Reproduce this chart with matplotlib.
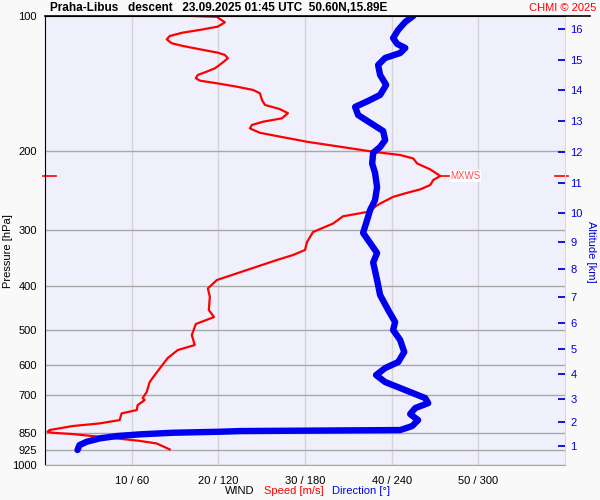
import matplotlib
matplotlib.use("Agg")
import matplotlib.pyplot as plt
import matplotlib.transforms as mtrans
from matplotlib.lines import Line2D
import numpy as np

plt.rcParams['font.family'] = ['Liberation Sans', 'DejaVu Sans']

# ---- data ----
speed_p = [100, 100.4, 103.3, 105.6, 107.4, 108.9, 110.8, 112.7, 115.0, 116.6, 118.6, 120.7, 122.1,
           124.2, 127.4, 130.8, 133.0, 135.3, 137.6, 139.3, 141.2, 143.7, 146.1, 148.6, 153.8, 157.8,
           161.2, 164.6, 169.0, 172.0, 174.9, 178.0, 182.0, 185.1, 188.9, 190.6, 195.5, 200.6, 204.0,
           207.6, 213.1, 219.6, 227.1, 231.9, 237.9, 243.3, 247.6, 252.8, 261.6, 273.2, 279.3, 289.9,
           302.8, 318.8, 332.0, 340.7, 349.5, 367.9, 387.3, 404.4, 421.8, 451.7, 468.3, 485.3, 513.5,
           540.5, 554.6, 577.8, 630.5, 653.5, 688.0, 709.4, 716.7, 735.4, 754.5, 767.5, 794.3, 807.9,
           819.0, 835.9, 843.3, 847.6, 853.3, 865.2, 872.5, 883.6, 895.5, 923.2]
speed_ms = [17.05, 19.83, 20.75, 19.94, 17.86, 15.9, 14.39, 14.05, 14.62, 15.9, 17.86, 19.94, 20.75,
            21.1, 20.4, 19.6, 18.67, 17.63, 17.4, 17.86, 19.83, 22.14, 24.0, 24.8, 25.03, 25.38,
            27.1, 28.03, 27.34, 25.14, 23.87, 23.64, 24.8, 26.76, 29.19, 30.23, 34.05, 37.86, 40.98,
            42.49, 42.95, 44.45, 45.61, 44.8, 44.45, 43.29, 41.79, 40.17, 38.67, 37.17, 34.39, 33.24,
            30.92, 30.23, 30.0, 28.61, 26.76, 23.3, 19.83, 18.79, 19.02, 18.9, 19.5, 17.4, 16.94,
            17.28, 15.32, 14.16, 12.66, 12.08, 11.73, 11.27, 11.5, 10.69, 10.58, 8.84, 8.61, 6.3,
            3.18, 0.52, 0.29, 0.87, 3.18, 6.3, 8.27, 10.92, 12.89, 14.39]

dir_p = [100, 103.1, 107.4, 112.0, 115.4, 117.8, 120.9, 124.0, 128.6, 135.3, 142.4, 149.9, 154.6,
         159.4, 166.2, 174.0, 180.4, 188.9, 195.8, 201.6, 213.1, 223.7, 240.4, 257.0, 270.5, 284.7,
         304.1, 320.3, 337.2, 354.0, 387.3, 418.2, 451.7, 480.4, 500.5, 526.8, 560.3, 589.9, 608.2,
         630.5, 653.5, 680.9, 709.4, 728.0, 746.8, 770.2, 794.3, 819.0, 835.9, 840.3, 843.2, 847.6,
         854.6, 862.1, 872.5, 887.8, 902.9, 926.0]
dir_deg = [254.9, 249.4, 244.5, 241.0, 243.8, 249.4, 245.9, 235.5, 230.6, 232.0, 236.2, 232.0, 223.7,
           214.7, 216.8, 226.5, 234.1, 235.5, 232.0, 227.2, 226.5, 228.5, 229.9, 228.5, 225.1, 223.0,
           220.2, 225.1, 229.9, 227.2, 229.9, 232.0, 237.6, 242.4, 241.0, 245.9, 248.7, 244.5, 235.5,
           229.2, 235.5, 249.4, 263.2, 265.3, 256.3, 252.8, 258.3, 254.2, 245.9, 134.9, 121.0, 88.4,
           65.5, 49.6, 37.8, 28.8, 23.9, 22.5]

mxws_p = 227.1
mxws_speed = 45.61

p_ticks = [100, 200, 300, 400, 500, 600, 700, 850, 925, 1000]
speed_ticks = [10, 20, 30, 40, 50]
dir_ticks = [60, 120, 180, 240, 300]
alt_km = list(range(1, 17))
alt_p = [907, 802, 713, 627, 551, 483, 423, 366, 319, 275, 235, 201, 171, 146, 125, 107]

# ---- figure ----
W, H = 600, 500
fig = plt.figure(figsize=(6, 5), dpi=100, facecolor='#f9f9f9')
L, R, T, B = 45, 565, 16, 465
ax = fig.add_axes([L / W, 1 - B / H, (R - L) / W, (B - T) / H])
ax.set_facecolor('#f0f0fc')
ax.set_yscale('log')
ax.set_ylim(1000, 100)
ax.set_xlim(0, 60)

# direction (blue) on a twin x axis 0..360 (shares pressure axis)
axd = ax.twiny()
axd.set_xlim(0, 360)
# altitude axis (right), shares x with ax
axa = ax.twinx()
axa.set_yscale('log')
axa.set_ylim(1000, 100)

# pressure ticks (set after twinning)
ax.set_ylim(1000, 100)
ax.yaxis.set_major_locator(matplotlib.ticker.FixedLocator(p_ticks))
ax.yaxis.set_major_formatter(matplotlib.ticker.FixedFormatter([str(v) for v in p_ticks]))
ax.yaxis.set_minor_locator(matplotlib.ticker.NullLocator())
ax.yaxis.set_minor_formatter(matplotlib.ticker.NullFormatter())
ax.set_xticks(speed_ticks)
ax.set_xticklabels([f"{s} / {d}" for s, d in zip(speed_ticks, dir_ticks)])
ax.tick_params(axis='both', length=0, labelsize=8)
ax.tick_params(axis='y', pad=6)
ax.tick_params(axis='x', pad=8)

for s in speed_ticks:
    ax.axvline(s, color='#d4d4d8', lw=1, zorder=0.5)
for pv in p_ticks[1:]:
    ax.axhline(pv, color='#a8a8a8', lw=1, zorder=0.6)

ax.spines['left'].set_color('black')
ax.spines['top'].set_color('black')
ax.spines['bottom'].set_color('#a8a8a8')
ax.spines['right'].set_color('#d8d8d8')

# speed (red)
ax.plot(speed_ms, speed_p, color='red', lw=1.6, zorder=3, solid_joinstyle='round')

axd.plot(dir_deg, dir_p, color='#0000ee', lw=4.6, solid_capstyle='round',
         solid_joinstyle='round', zorder=4)
axd.set_xticks([])
axd.set_xlim(0, 360)
for sp in axd.spines.values():
    sp.set_visible(False)

axa.yaxis.set_major_locator(matplotlib.ticker.FixedLocator(alt_p))
axa.yaxis.set_major_formatter(matplotlib.ticker.FixedFormatter([str(k) for k in alt_km]))
axa.yaxis.set_minor_locator(matplotlib.ticker.NullLocator())
axa.yaxis.set_minor_formatter(matplotlib.ticker.NullFormatter())
axa.tick_params(axis='y', direction='in', length=5, width=1.3, color='#0000dd',
                labelcolor='#0000dd', labelsize=8, pad=4)
for sp in axa.spines.values():
    sp.set_visible(False)

# MXWS markers
trans = mtrans.blended_transform_factory(ax.transAxes, ax.transData)
ax.add_line(Line2D([-2 / 520, 11 / 520], [mxws_p, mxws_p], transform=trans, color='red', lw=1.2, clip_on=False))
ax.add_line(Line2D([1 - 10 / 520, 1 + 3 / 520], [mxws_p, mxws_p], transform=trans, color='red', lw=1.2, clip_on=False))
ax.plot([mxws_speed, mxws_speed + 1.0], [mxws_p, mxws_p], color='red', lw=1.2, zorder=3)
ax.text(mxws_speed + 1.15, mxws_p, 'MXWS', color='#ff5050', fontsize=7, va='center', ha='left',
        bbox=dict(facecolor='white', edgecolor='none', pad=0.5), zorder=5)

# top black line extending to the right
fig.add_artist(Line2D([L / W, 590 / W], [1 - 15.5 / H, 1 - 15.5 / H], color='black', lw=1.2))

# texts
fig.text(50 / W, 1 - 8 / H, 'Praha-Libus   descent   23.09.2025 01:45 UTC  50.60N,15.89E',
         fontsize=8.5, fontweight='bold', ha='left', va='center')
fig.text(596 / W, 1 - 8 / H, 'CHMI © 2025', fontsize=8, color='red', ha='right', va='center')
fig.text(8 / W, 1 - 251 / H, 'Pressure [hPa]', fontsize=8, rotation=90, ha='center', va='center')
fig.text(591 / W, 1 - 252 / H, 'Altitude [km]', fontsize=8, rotation=270, ha='center', va='center',
         color='#0000dd')
fig.text(225 / W, 1 - 491 / H, 'WIND', fontsize=8, ha='left', va='center')
fig.text(264 / W, 1 - 491 / H, 'Speed [m/s]', fontsize=8, ha='left', va='center', color='red')
fig.text(332 / W, 1 - 491 / H, 'Direction [°]', fontsize=8, ha='left', va='center', color='#0000ee')

fig.savefig('out.png', dpi=100, facecolor=fig.get_facecolor())
